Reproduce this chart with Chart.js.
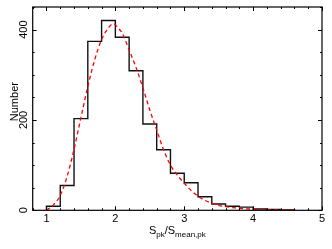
<!DOCTYPE html>
<html>
<head>
<meta charset="utf-8">
<script src="https://cdn.jsdelivr.net/npm/chart.js@4.4.0/dist/chart.umd.min.js"></script>
<style>
  html, body { margin: 0; padding: 0; background: #fff; }
  #wrap { width: 332px; height: 249px; }
</style>
</head>
<body>
<div id="wrap"><canvas id="histChart" width="332" height="249"></canvas></div>
<script>
/*---------------------------- data ------------------------------------*/
// histogram bins (left edges, width 0.2) and counts
var binEdges = [1.0, 1.2, 1.4, 1.6, 1.8, 2.0, 2.2, 2.4, 2.6, 2.8, 3.0, 3.2, 3.4, 3.6, 3.8, 4.0, 4.2, 4.4, 4.6];
var counts = [9, 55, 203, 374, 420, 383, 309, 191, 134, 82, 61, 30, 14, 9, 7, 3, 2, 1];

// fitted curve (red dashed)
var fitX = [1.0, 1.1, 1.2, 1.3, 1.4, 1.5, 1.6, 1.7, 1.8, 1.9, 1.97, 2.05, 2.1, 2.2, 2.3, 2.4, 2.5, 2.6, 2.7, 2.8, 2.9, 3.0, 3.1, 3.2, 3.3, 3.4, 3.5, 3.6, 3.8, 4.0, 4.2, 4.4, 4.6];
var fitY = [0, 12, 33, 75, 135, 205, 274, 333, 378, 404, 413, 402, 392, 355, 316, 271, 222, 178, 134, 100, 78, 60, 44, 31, 22, 16, 11, 8, 4.5, 2.5, 1.5, 1, 0.5];

var xTicks = [1, 2, 3, 4, 5];
var yTicks = [0, 200, 400];

var font = "'Liberation Sans', Arial, sans-serif";

// step outline from the bins
var histPts = [{x: binEdges[0], y: 0}];
for (var i = 0; i < counts.length; i++) {
  histPts.push({x: binEdges[i], y: counts[i]});
}
histPts.push({x: binEdges[binEdges.length - 1], y: counts[counts.length - 1]});
histPts.push({x: binEdges[binEdges.length - 1], y: 0});

var fitPts = fitX.map(function (x, i) { return {x: x, y: fitY[i]}; });

function isMajorX(v) { return xTicks.some(function (t) { return Math.abs(t - v) < 1e-6; }); }
function isMajorY(v) { return yTicks.some(function (t) { return Math.abs(t - v) < 1e-6; }); }

/*---------------------------- frame, ticks, titles ------------------------------------*/
var framePlugin = {
  id: 'frame',
  afterDraw: function (chart) {
    var ctx = chart.ctx, a = chart.chartArea;
    var xs = chart.scales.x, ys = chart.scales.y;
    ctx.save();
    ctx.strokeStyle = '#000';
    ctx.lineWidth = 1.2;
    ctx.strokeRect(a.left, a.top, a.right - a.left, a.bottom - a.top);

    ctx.lineWidth = 1;
    ctx.beginPath();
    xs.ticks.forEach(function (t) {
      var px = Math.round(xs.getPixelForValue(t.value)) + 0.5;
      var len = isMajorX(t.value) ? 4 : 2;
      ctx.moveTo(px, a.bottom); ctx.lineTo(px, a.bottom - len);
      ctx.moveTo(px, a.top); ctx.lineTo(px, a.top + len);
    });
    ys.ticks.forEach(function (t) {
      var py = Math.round(ys.getPixelForValue(t.value)) + 0.5;
      var len = isMajorY(t.value) ? 4 : 2;
      ctx.moveTo(a.left, py); ctx.lineTo(a.left + len, py);
      ctx.moveTo(a.right, py); ctx.lineTo(a.right - len, py);
    });
    ctx.stroke();

    // y tick labels, rotated
    ctx.fillStyle = '#000';
    ctx.font = '11px ' + font;
    ctx.textAlign = 'center';
    ctx.textBaseline = 'middle';
    yTicks.forEach(function (v) {
      ctx.save();
      ctx.translate(a.left - 9, ys.getPixelForValue(v));
      ctx.rotate(-Math.PI / 2);
      ctx.fillText(String(v), 0, 0);
      ctx.restore();
    });

    // y title
    ctx.save();
    ctx.translate(a.left - 18, (a.top + a.bottom) / 2 - 7);
    ctx.rotate(-Math.PI / 2);
    ctx.fillText('Number', 0, 0);
    ctx.restore();

    // x title with subscripts
    var parts = [['S', 0], ['pk', 1], ['/S', 0], ['mean,pk', 1]];
    var w = 0;
    parts.forEach(function (p) {
      ctx.font = (p[1] ? '8px ' : '11px ') + font;
      p.push(ctx.measureText(p[0]).width);
      w += p[2];
    });
    var x0 = (a.left + a.right) / 2 - w / 2;
    var base = a.bottom + 23.5;
    ctx.textAlign = 'left';
    ctx.textBaseline = 'alphabetic';
    parts.forEach(function (p) {
      ctx.font = (p[1] ? '8px ' : '11px ') + font;
      ctx.fillText(p[0], x0, base + (p[1] ? 3 : 0));
      x0 += p[2];
    });
    ctx.restore();
  }
};

new Chart("histChart", {
  type: "line",
  data: {
    datasets: [{
      data: fitPts,
      borderColor: "#ff0000",
      borderWidth: 1.3,
      borderDash: [4, 3],
      pointRadius: 0,
      cubicInterpolationMode: 'monotone',
      fill: false
    }, {
      data: histPts,
      borderColor: "#111",
      borderWidth: 1.4,
      stepped: 'before',
      pointRadius: 0,
      fill: false
    }]
  },
  options: {
    responsive: false,
    animation: false,
    events: [],
    layout: {padding: {top: 7, right: 10, left: 0, bottom: 0}},
    plugins: {
      legend: {display: false},
      tooltip: {enabled: false}
    },
    scales: {
      x: {
        type: 'linear',
        min: 0.8,
        max: 5,
        grid: {display: false, drawTicks: false, tickLength: 0},
        border: {display: false},
        ticks: {
          stepSize: 0.2,
          autoSkip: false,
          maxRotation: 0,
          padding: 2,
          color: '#000',
          font: {family: font, size: 11},
          callback: function (v) { return isMajorX(v) ? String(Math.round(v)) : ''; }
        },
        afterFit: function (s) { s.height = 38.7; }
      },
      y: {
        min: 0,
        max: 450,
        grid: {display: false},
        border: {display: false},
        ticks: {stepSize: 50, display: false},
        afterFit: function (s) { s.width = 32.7; }
      }
    }
  },
  plugins: [framePlugin]
});
</script>
</body>
</html>
